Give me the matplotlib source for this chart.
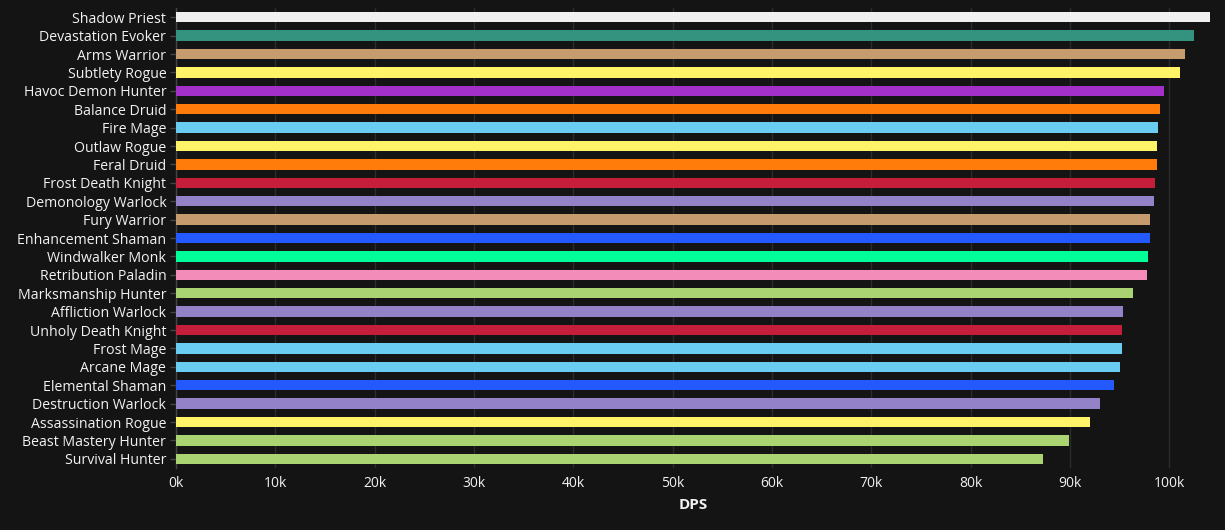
import matplotlib.pyplot as plt
from matplotlib.ticker import FuncFormatter

specs = [
    "Shadow Priest", "Devastation Evoker", "Arms Warrior", "Subtlety Rogue",
    "Havoc Demon Hunter", "Balance Druid", "Fire Mage", "Outlaw Rogue",
    "Feral Druid", "Frost Death Knight", "Demonology Warlock", "Fury Warrior",
    "Enhancement Shaman", "Windwalker Monk", "Retribution Paladin",
    "Marksmanship Hunter", "Affliction Warlock", "Unholy Death Knight",
    "Frost Mage", "Arcane Mage", "Elemental Shaman", "Destruction Warlock",
    "Assassination Rogue", "Beast Mastery Hunter", "Survival Hunter",
]
dps = [
    104080, 102470, 101600, 101100, 99450, 99080, 98820, 98710, 98700,
    98570, 98440, 98070, 98050, 97840, 97700, 96300, 95290, 95260, 95200,
    95020, 94400, 93040, 92030, 89880, 87230,
]
class_colors = {
    "Priest": "#f0f0f0", "Evoker": "#33937f", "Warrior": "#c69b6d",
    "Rogue": "#fff468", "Demon Hunter": "#a330c9", "Druid": "#ff7c0a",
    "Mage": "#69ccf0", "Death Knight": "#c41e3a", "Warlock": "#9482c9",
    "Shaman": "#2459ff", "Monk": "#00ff98", "Paladin": "#f48cba",
    "Hunter": "#aad372",
}


def spec_color(name):
    for cls, col in class_colors.items():
        if name.endswith(cls):
            return col
    return "#888888"


bg = "#141414"
text_col = "#f2f2f2"
font = "Open Sans"

fig = plt.figure(figsize=(12.25, 5.3), dpi=100, facecolor=bg)
ax = fig.add_axes([176 / 1225, 62 / 530, (1210 - 176) / 1225, 460 / 530])
ax.set_facecolor(bg)

ypos = list(range(len(specs)))
ax.barh(ypos, dps, height=0.57, color=[spec_color(s) for s in specs], zorder=3)

ax.set_ylim(len(specs) - 0.5, -0.5)
ax.set_xlim(0, max(dps))
ax.set_xticks(range(0, 100001, 10000))
ax.xaxis.set_major_formatter(FuncFormatter(lambda v, p: f"{int(v / 1000)}k"))
ax.set_yticks(ypos)
ax.set_yticklabels(specs)

ax.grid(axis="x", color="#2c2c2c", linewidth=1, zorder=0)
for side in ("top", "right", "bottom"):
    ax.spines[side].set_visible(False)
ax.spines["left"].set_color("#444444")
ax.spines["left"].set_linewidth(1)

ax.tick_params(axis="x", length=0, pad=6, colors=text_col, labelsize=10)
ax.tick_params(axis="y", length=4, width=1, color="#444444", pad=3,
               colors=text_col, labelsize=10.2)
for lbl in ax.get_xticklabels() + ax.get_yticklabels():
    lbl.set_fontfamily(font)
    lbl.set_color(text_col)

ax.set_xlabel("DPS", color=text_col, fontsize=11, fontweight="bold",
              fontfamily=font, labelpad=5)

fig.savefig("out.png", dpi=100, facecolor=bg)
